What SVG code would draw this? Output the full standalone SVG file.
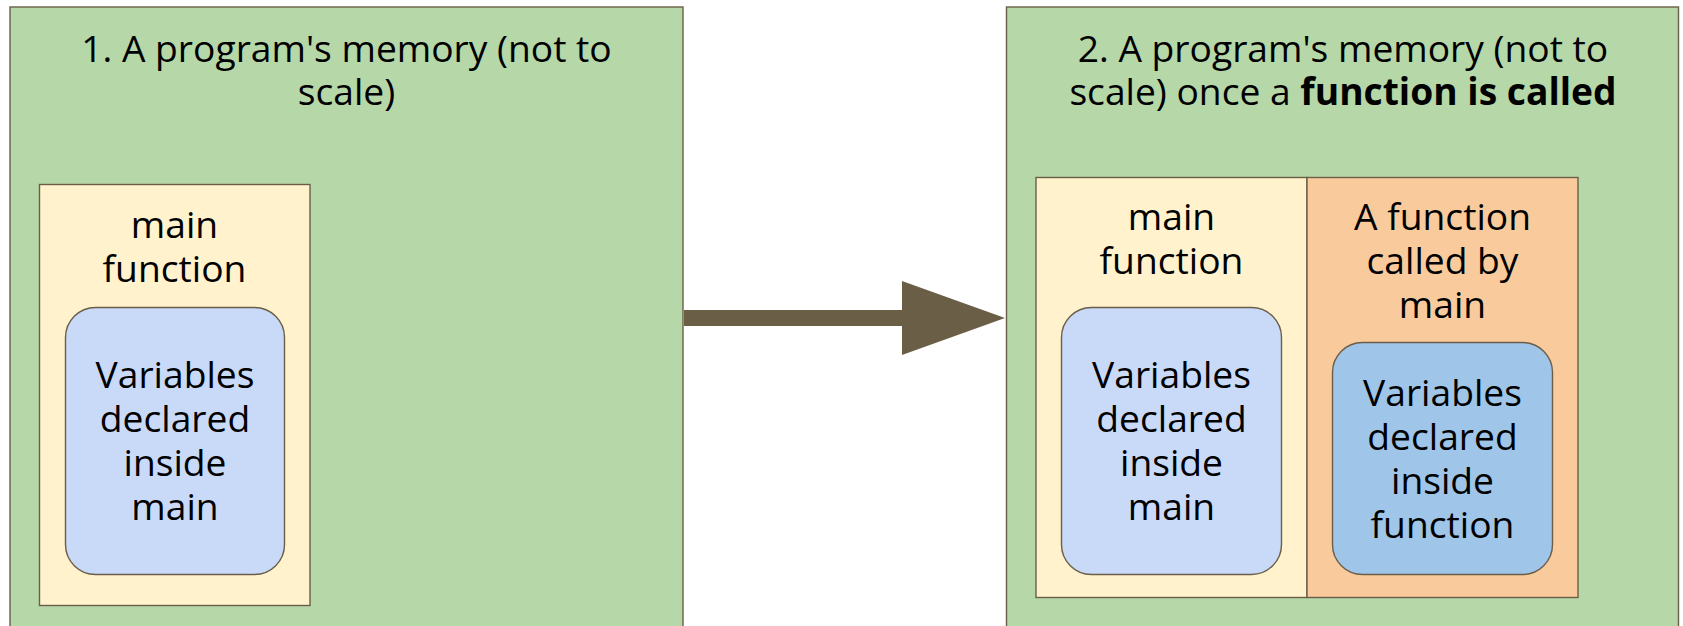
<svg xmlns="http://www.w3.org/2000/svg" width="1683" height="626" viewBox="0 0 1683 626">
  <style>
    .box { stroke: #6b5e48; stroke-width: 1.4; }
    .panel { fill: #b6d7a8; }
    .frame { fill: #fff2cc; }
    .callee { fill: #f9cb9c; }
    .vars { fill: #c9daf8; }
    .vars2 { fill: #9fc5e8; }
    text { font-family: "Open Sans", "Noto Sans", sans-serif; font-size: 37.2px; fill: #000; text-anchor: middle; }
    .b { font-weight: bold; }
  </style>

  <rect width="1683" height="626" fill="#ffffff"/>

  <!-- Before the call -->
  <g id="memory-before">
    <rect class="box panel" x="10" y="7" width="673" height="630"/>
    <text x="346.5" y="61.5">1. A program's memory (not to</text>
    <text x="346.5" y="104.5">scale)</text>
  </g>
  <g id="main-frame-before">
    <rect class="box frame" x="39.5" y="184.5" width="270.5" height="421"/>
    <text x="174.5" y="238">main</text>
    <text x="174.5" y="282">function</text>
  </g>
  <g id="main-vars-before">
    <rect class="box vars" x="65.5" y="307.5" width="219" height="267" rx="30" ry="30"/>
    <text x="175" y="388">Variables</text>
    <text x="175" y="432">declared</text>
    <text x="175" y="476">inside</text>
    <text x="175" y="520">main</text>
  </g>

  <!-- After the call -->
  <g id="memory-after">
    <rect class="box panel" x="1006.5" y="7" width="672" height="630"/>
    <text x="1343" y="61.5">2. A program's memory (not to</text>
    <text x="1343" y="104.5">scale) once a <tspan class="b">function is called</tspan></text>
  </g>
  <g id="main-frame-after">
    <rect class="box frame" x="1036" y="177.5" width="271" height="420"/>
    <text x="1171.5" y="230">main</text>
    <text x="1171.5" y="274">function</text>
  </g>
  <g id="called-frame">
    <rect class="box callee" x="1307" y="177.5" width="271" height="420"/>
    <text x="1442.5" y="230">A function</text>
    <text x="1442.5" y="274">called by</text>
    <text x="1442.5" y="318">main</text>
  </g>
  <g id="main-vars-after">
    <rect class="box vars" x="1061.5" y="307.5" width="220" height="267" rx="30" ry="30"/>
    <text x="1171.5" y="388">Variables</text>
    <text x="1171.5" y="432">declared</text>
    <text x="1171.5" y="476">inside</text>
    <text x="1171.5" y="520">main</text>
  </g>
  <g id="function-vars">
    <rect class="box vars2" x="1332.5" y="342.5" width="220" height="232" rx="30" ry="30"/>
    <text x="1442.5" y="406">Variables</text>
    <text x="1442.5" y="449.5">declared</text>
    <text x="1442.5" y="493.5">inside</text>
    <text x="1442.5" y="537.5">function</text>
  </g>

  <!-- Transition arrow -->
  <g id="connectors">
    <polygon fill="#6b5e46" points="684,310 902,310 902,281 1005,318 902,355 902,326 684,326"/>
  </g>
</svg>
